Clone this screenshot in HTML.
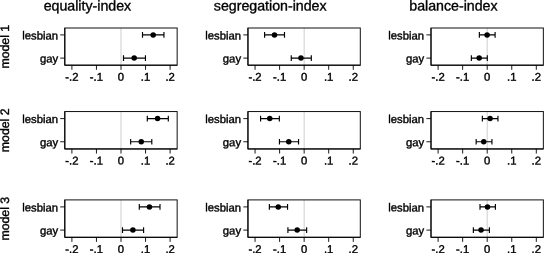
<!DOCTYPE html>
<html><head><meta charset="utf-8"><title>coefficient plot</title>
<style>html,body{margin:0;padding:0;background:#fff;}svg{display:block;}text{font-family:"Liberation Sans",sans-serif;fill:#000;stroke:#000;stroke-width:0.38px;text-rendering:geometricPrecision;}text.t{stroke-width:0.35px;}</style></head><body>
<svg width="544" height="253" viewBox="0 0 544 253">
<rect width="544" height="253" fill="#fff"/>
<text class="t" x="87.40" y="10.40" transform="rotate(0.03 87.40 10.40)" font-size="14.2" text-anchor="middle">equality-index</text>
<text class="t" x="270.20" y="10.40" transform="rotate(0.03 270.20 10.40)" font-size="14.2" text-anchor="middle">segregation-index</text>
<text class="t" x="453.45" y="10.40" transform="rotate(0.03 453.45 10.40)" font-size="14.2" text-anchor="middle">balance-index</text>
<text x="9.0" y="68.55" transform="rotate(-89.97 9.0 68.55)" font-size="12.3" text-anchor="start">model 1</text>
<line x1="121.0" y1="28.0" x2="121.0" y2="65.2" stroke="#cecece" stroke-width="1"/>
<rect x="64.8" y="28.0" width="112.35" height="37.20" fill="none" stroke="#101010" stroke-width="1"/>
<path d="M64.8 28.0V65.2H177.15" fill="none" stroke="#000" stroke-width="1"/>
<line x1="60.20" y1="34.9" x2="64.8" y2="34.9" stroke="#000" stroke-width="0.9"/>
<text x="58.15" y="39.40" transform="rotate(0.03 58.15 39.40)" font-size="11.3" text-anchor="end">lesbian</text>
<line x1="60.20" y1="58.1" x2="64.8" y2="58.1" stroke="#000" stroke-width="0.9"/>
<text x="58.15" y="62.60" transform="rotate(0.03 58.15 62.60)" font-size="11.3" text-anchor="end">gay</text>
<line x1="71.90" y1="65.2" x2="71.90" y2="69.80" stroke="#000" stroke-width="0.9"/>
<text x="71.90" y="80.80" transform="rotate(0.03 71.90 80.80)" font-size="11.3" text-anchor="middle">-.2</text>
<line x1="96.45" y1="65.2" x2="96.45" y2="69.80" stroke="#000" stroke-width="0.9"/>
<text x="96.45" y="80.80" transform="rotate(0.03 96.45 80.80)" font-size="11.3" text-anchor="middle">-.1</text>
<line x1="121.00" y1="65.2" x2="121.00" y2="69.80" stroke="#000" stroke-width="0.9"/>
<text x="121.00" y="80.80" transform="rotate(0.03 121.00 80.80)" font-size="11.3" text-anchor="middle">0</text>
<line x1="145.55" y1="65.2" x2="145.55" y2="69.80" stroke="#000" stroke-width="0.9"/>
<text x="145.55" y="80.80" transform="rotate(0.03 145.55 80.80)" font-size="11.3" text-anchor="middle">.1</text>
<line x1="170.10" y1="65.2" x2="170.10" y2="69.80" stroke="#000" stroke-width="0.9"/>
<text x="170.10" y="80.80" transform="rotate(0.03 170.10 80.80)" font-size="11.3" text-anchor="middle">.2</text>
<path d="M142.5 34.9H163.95M142.5 32.10V37.70M163.95 32.10V37.70" stroke="#000" stroke-width="1.15" fill="none"/>
<circle cx="153.2" cy="34.9" r="2.75" fill="#000"/>
<path d="M123.5 58.1H145.45M123.5 55.30V60.90M145.45 55.30V60.90" stroke="#000" stroke-width="1.15" fill="none"/>
<circle cx="134.2" cy="58.1" r="2.75" fill="#000"/>
<line x1="304.15" y1="28.0" x2="304.15" y2="65.2" stroke="#cecece" stroke-width="1"/>
<rect x="247.95" y="28.0" width="112.35" height="37.20" fill="none" stroke="#101010" stroke-width="1"/>
<path d="M247.95 28.0V65.2H360.3" fill="none" stroke="#000" stroke-width="1"/>
<line x1="243.35" y1="34.9" x2="247.95" y2="34.9" stroke="#000" stroke-width="0.9"/>
<text x="241.05" y="39.40" transform="rotate(0.03 241.05 39.40)" font-size="11.3" text-anchor="end">lesbian</text>
<line x1="243.35" y1="58.1" x2="247.95" y2="58.1" stroke="#000" stroke-width="0.9"/>
<text x="241.05" y="62.60" transform="rotate(0.03 241.05 62.60)" font-size="11.3" text-anchor="end">gay</text>
<line x1="255.05" y1="65.2" x2="255.05" y2="69.80" stroke="#000" stroke-width="0.9"/>
<text x="255.05" y="80.80" transform="rotate(0.03 255.05 80.80)" font-size="11.3" text-anchor="middle">-.2</text>
<line x1="279.60" y1="65.2" x2="279.60" y2="69.80" stroke="#000" stroke-width="0.9"/>
<text x="279.60" y="80.80" transform="rotate(0.03 279.60 80.80)" font-size="11.3" text-anchor="middle">-.1</text>
<line x1="304.15" y1="65.2" x2="304.15" y2="69.80" stroke="#000" stroke-width="0.9"/>
<text x="304.15" y="80.80" transform="rotate(0.03 304.15 80.80)" font-size="11.3" text-anchor="middle">0</text>
<line x1="328.70" y1="65.2" x2="328.70" y2="69.80" stroke="#000" stroke-width="0.9"/>
<text x="328.70" y="80.80" transform="rotate(0.03 328.70 80.80)" font-size="11.3" text-anchor="middle">.1</text>
<line x1="353.25" y1="65.2" x2="353.25" y2="69.80" stroke="#000" stroke-width="0.9"/>
<text x="353.25" y="80.80" transform="rotate(0.03 353.25 80.80)" font-size="11.3" text-anchor="middle">.2</text>
<path d="M264.6 34.9H284.5M264.6 32.10V37.70M284.5 32.10V37.70" stroke="#000" stroke-width="1.15" fill="none"/>
<circle cx="274.5" cy="34.9" r="2.75" fill="#000"/>
<path d="M291.25 58.1H311.3M291.25 55.30V60.90M311.3 55.30V60.90" stroke="#000" stroke-width="1.15" fill="none"/>
<circle cx="300.95" cy="58.1" r="2.75" fill="#000"/>
<line x1="487.2" y1="28.0" x2="487.2" y2="65.2" stroke="#cecece" stroke-width="1"/>
<rect x="431.0" y="28.0" width="112.35" height="37.20" fill="none" stroke="#101010" stroke-width="1"/>
<path d="M431.0 28.0V65.2H543.35" fill="none" stroke="#000" stroke-width="1"/>
<line x1="426.40" y1="34.9" x2="431.0" y2="34.9" stroke="#000" stroke-width="0.9"/>
<text x="424.10" y="39.40" transform="rotate(0.03 424.10 39.40)" font-size="11.3" text-anchor="end">lesbian</text>
<line x1="426.40" y1="58.1" x2="431.0" y2="58.1" stroke="#000" stroke-width="0.9"/>
<text x="424.10" y="62.60" transform="rotate(0.03 424.10 62.60)" font-size="11.3" text-anchor="end">gay</text>
<line x1="438.10" y1="65.2" x2="438.10" y2="69.80" stroke="#000" stroke-width="0.9"/>
<text x="438.10" y="80.80" transform="rotate(0.03 438.10 80.80)" font-size="11.3" text-anchor="middle">-.2</text>
<line x1="462.65" y1="65.2" x2="462.65" y2="69.80" stroke="#000" stroke-width="0.9"/>
<text x="462.65" y="80.80" transform="rotate(0.03 462.65 80.80)" font-size="11.3" text-anchor="middle">-.1</text>
<line x1="487.20" y1="65.2" x2="487.20" y2="69.80" stroke="#000" stroke-width="0.9"/>
<text x="487.20" y="80.80" transform="rotate(0.03 487.20 80.80)" font-size="11.3" text-anchor="middle">0</text>
<line x1="511.75" y1="65.2" x2="511.75" y2="69.80" stroke="#000" stroke-width="0.9"/>
<text x="511.75" y="80.80" transform="rotate(0.03 511.75 80.80)" font-size="11.3" text-anchor="middle">.1</text>
<line x1="536.30" y1="65.2" x2="536.30" y2="69.80" stroke="#000" stroke-width="0.9"/>
<text x="536.30" y="80.80" transform="rotate(0.03 536.30 80.80)" font-size="11.3" text-anchor="middle">.2</text>
<path d="M479.35 34.9H495.1M479.35 32.10V37.70M495.1 32.10V37.70" stroke="#000" stroke-width="1.15" fill="none"/>
<circle cx="487.1" cy="34.9" r="2.75" fill="#000"/>
<path d="M471.35 58.1H487.3M471.35 55.30V60.90M487.3 55.30V60.90" stroke="#000" stroke-width="1.15" fill="none"/>
<circle cx="479.2" cy="58.1" r="2.75" fill="#000"/>
<text x="9.0" y="152.20" transform="rotate(-89.97 9.0 152.20)" font-size="12.3" text-anchor="start">model 2</text>
<line x1="121.0" y1="111.55" x2="121.0" y2="148.95" stroke="#cecece" stroke-width="1"/>
<rect x="64.8" y="111.55" width="112.35" height="37.40" fill="none" stroke="#101010" stroke-width="1"/>
<path d="M64.8 111.55V148.95H177.15" fill="none" stroke="#000" stroke-width="1"/>
<line x1="60.20" y1="118.6" x2="64.8" y2="118.6" stroke="#000" stroke-width="0.9"/>
<text x="58.15" y="123.10" transform="rotate(0.03 58.15 123.10)" font-size="11.3" text-anchor="end">lesbian</text>
<line x1="60.20" y1="141.75" x2="64.8" y2="141.75" stroke="#000" stroke-width="0.9"/>
<text x="58.15" y="146.25" transform="rotate(0.03 58.15 146.25)" font-size="11.3" text-anchor="end">gay</text>
<line x1="71.90" y1="148.95" x2="71.90" y2="153.55" stroke="#000" stroke-width="0.9"/>
<text x="71.90" y="164.55" transform="rotate(0.03 71.90 164.55)" font-size="11.3" text-anchor="middle">-.2</text>
<line x1="96.45" y1="148.95" x2="96.45" y2="153.55" stroke="#000" stroke-width="0.9"/>
<text x="96.45" y="164.55" transform="rotate(0.03 96.45 164.55)" font-size="11.3" text-anchor="middle">-.1</text>
<line x1="121.00" y1="148.95" x2="121.00" y2="153.55" stroke="#000" stroke-width="0.9"/>
<text x="121.00" y="164.55" transform="rotate(0.03 121.00 164.55)" font-size="11.3" text-anchor="middle">0</text>
<line x1="145.55" y1="148.95" x2="145.55" y2="153.55" stroke="#000" stroke-width="0.9"/>
<text x="145.55" y="164.55" transform="rotate(0.03 145.55 164.55)" font-size="11.3" text-anchor="middle">.1</text>
<line x1="170.10" y1="148.95" x2="170.10" y2="153.55" stroke="#000" stroke-width="0.9"/>
<text x="170.10" y="164.55" transform="rotate(0.03 170.10 164.55)" font-size="11.3" text-anchor="middle">.2</text>
<path d="M147.3 118.6H168.3M147.3 115.80V121.40M168.3 115.80V121.40" stroke="#000" stroke-width="1.15" fill="none"/>
<circle cx="157.55" cy="118.6" r="2.75" fill="#000"/>
<path d="M130.65 141.75H151.8M130.65 138.95V144.55M151.8 138.95V144.55" stroke="#000" stroke-width="1.15" fill="none"/>
<circle cx="141.25" cy="141.75" r="2.75" fill="#000"/>
<line x1="304.15" y1="111.55" x2="304.15" y2="148.95" stroke="#cecece" stroke-width="1"/>
<rect x="247.95" y="111.55" width="112.35" height="37.40" fill="none" stroke="#101010" stroke-width="1"/>
<path d="M247.95 111.55V148.95H360.3" fill="none" stroke="#000" stroke-width="1"/>
<line x1="243.35" y1="118.6" x2="247.95" y2="118.6" stroke="#000" stroke-width="0.9"/>
<text x="241.05" y="123.10" transform="rotate(0.03 241.05 123.10)" font-size="11.3" text-anchor="end">lesbian</text>
<line x1="243.35" y1="141.75" x2="247.95" y2="141.75" stroke="#000" stroke-width="0.9"/>
<text x="241.05" y="146.25" transform="rotate(0.03 241.05 146.25)" font-size="11.3" text-anchor="end">gay</text>
<line x1="255.05" y1="148.95" x2="255.05" y2="153.55" stroke="#000" stroke-width="0.9"/>
<text x="255.05" y="164.55" transform="rotate(0.03 255.05 164.55)" font-size="11.3" text-anchor="middle">-.2</text>
<line x1="279.60" y1="148.95" x2="279.60" y2="153.55" stroke="#000" stroke-width="0.9"/>
<text x="279.60" y="164.55" transform="rotate(0.03 279.60 164.55)" font-size="11.3" text-anchor="middle">-.1</text>
<line x1="304.15" y1="148.95" x2="304.15" y2="153.55" stroke="#000" stroke-width="0.9"/>
<text x="304.15" y="164.55" transform="rotate(0.03 304.15 164.55)" font-size="11.3" text-anchor="middle">0</text>
<line x1="328.70" y1="148.95" x2="328.70" y2="153.55" stroke="#000" stroke-width="0.9"/>
<text x="328.70" y="164.55" transform="rotate(0.03 328.70 164.55)" font-size="11.3" text-anchor="middle">.1</text>
<line x1="353.25" y1="148.95" x2="353.25" y2="153.55" stroke="#000" stroke-width="0.9"/>
<text x="353.25" y="164.55" transform="rotate(0.03 353.25 164.55)" font-size="11.3" text-anchor="middle">.2</text>
<path d="M260.6 118.6H279.35M260.6 115.80V121.40M279.35 115.80V121.40" stroke="#000" stroke-width="1.15" fill="none"/>
<circle cx="269.75" cy="118.6" r="2.75" fill="#000"/>
<path d="M279.45 141.75H298.55M279.45 138.95V144.55M298.55 138.95V144.55" stroke="#000" stroke-width="1.15" fill="none"/>
<circle cx="288.75" cy="141.75" r="2.75" fill="#000"/>
<line x1="487.2" y1="111.55" x2="487.2" y2="148.95" stroke="#cecece" stroke-width="1"/>
<rect x="431.0" y="111.55" width="112.35" height="37.40" fill="none" stroke="#101010" stroke-width="1"/>
<path d="M431.0 111.55V148.95H543.35" fill="none" stroke="#000" stroke-width="1"/>
<line x1="426.40" y1="118.6" x2="431.0" y2="118.6" stroke="#000" stroke-width="0.9"/>
<text x="424.10" y="123.10" transform="rotate(0.03 424.10 123.10)" font-size="11.3" text-anchor="end">lesbian</text>
<line x1="426.40" y1="141.75" x2="431.0" y2="141.75" stroke="#000" stroke-width="0.9"/>
<text x="424.10" y="146.25" transform="rotate(0.03 424.10 146.25)" font-size="11.3" text-anchor="end">gay</text>
<line x1="438.10" y1="148.95" x2="438.10" y2="153.55" stroke="#000" stroke-width="0.9"/>
<text x="438.10" y="164.55" transform="rotate(0.03 438.10 164.55)" font-size="11.3" text-anchor="middle">-.2</text>
<line x1="462.65" y1="148.95" x2="462.65" y2="153.55" stroke="#000" stroke-width="0.9"/>
<text x="462.65" y="164.55" transform="rotate(0.03 462.65 164.55)" font-size="11.3" text-anchor="middle">-.1</text>
<line x1="487.20" y1="148.95" x2="487.20" y2="153.55" stroke="#000" stroke-width="0.9"/>
<text x="487.20" y="164.55" transform="rotate(0.03 487.20 164.55)" font-size="11.3" text-anchor="middle">0</text>
<line x1="511.75" y1="148.95" x2="511.75" y2="153.55" stroke="#000" stroke-width="0.9"/>
<text x="511.75" y="164.55" transform="rotate(0.03 511.75 164.55)" font-size="11.3" text-anchor="middle">.1</text>
<line x1="536.30" y1="148.95" x2="536.30" y2="153.55" stroke="#000" stroke-width="0.9"/>
<text x="536.30" y="164.55" transform="rotate(0.03 536.30 164.55)" font-size="11.3" text-anchor="middle">.2</text>
<path d="M482.35 118.6H497.95M482.35 115.80V121.40M497.95 115.80V121.40" stroke="#000" stroke-width="1.15" fill="none"/>
<circle cx="490.05" cy="118.6" r="2.75" fill="#000"/>
<path d="M476.15 141.75H491.95M476.15 138.95V144.55M491.95 138.95V144.55" stroke="#000" stroke-width="1.15" fill="none"/>
<circle cx="483.75" cy="141.75" r="2.75" fill="#000"/>
<text x="9.0" y="240.55" transform="rotate(-89.97 9.0 240.55)" font-size="12.3" text-anchor="start">model 3</text>
<line x1="121.0" y1="199.9" x2="121.0" y2="237.3" stroke="#cecece" stroke-width="1"/>
<rect x="64.8" y="199.9" width="112.35" height="37.40" fill="none" stroke="#101010" stroke-width="1"/>
<path d="M64.8 199.9V237.3H177.15" fill="none" stroke="#000" stroke-width="1"/>
<line x1="60.20" y1="206.9" x2="64.8" y2="206.9" stroke="#000" stroke-width="0.9"/>
<text x="58.15" y="211.40" transform="rotate(0.03 58.15 211.40)" font-size="11.3" text-anchor="end">lesbian</text>
<line x1="60.20" y1="230.1" x2="64.8" y2="230.1" stroke="#000" stroke-width="0.9"/>
<text x="58.15" y="234.60" transform="rotate(0.03 58.15 234.60)" font-size="11.3" text-anchor="end">gay</text>
<line x1="71.90" y1="237.3" x2="71.90" y2="241.90" stroke="#000" stroke-width="0.9"/>
<text x="71.90" y="252.90" transform="rotate(0.03 71.90 252.90)" font-size="11.3" text-anchor="middle">-.2</text>
<line x1="96.45" y1="237.3" x2="96.45" y2="241.90" stroke="#000" stroke-width="0.9"/>
<text x="96.45" y="252.90" transform="rotate(0.03 96.45 252.90)" font-size="11.3" text-anchor="middle">-.1</text>
<line x1="121.00" y1="237.3" x2="121.00" y2="241.90" stroke="#000" stroke-width="0.9"/>
<text x="121.00" y="252.90" transform="rotate(0.03 121.00 252.90)" font-size="11.3" text-anchor="middle">0</text>
<line x1="145.55" y1="237.3" x2="145.55" y2="241.90" stroke="#000" stroke-width="0.9"/>
<text x="145.55" y="252.90" transform="rotate(0.03 145.55 252.90)" font-size="11.3" text-anchor="middle">.1</text>
<line x1="170.10" y1="237.3" x2="170.10" y2="241.90" stroke="#000" stroke-width="0.9"/>
<text x="170.10" y="252.90" transform="rotate(0.03 170.10 252.90)" font-size="11.3" text-anchor="middle">.2</text>
<path d="M139.3 206.9H160.0M139.3 204.10V209.70M160.0 204.10V209.70" stroke="#000" stroke-width="1.15" fill="none"/>
<circle cx="149.45" cy="206.9" r="2.75" fill="#000"/>
<path d="M122.5 230.1H143.6M122.5 227.30V232.90M143.6 227.30V232.90" stroke="#000" stroke-width="1.15" fill="none"/>
<circle cx="132.9" cy="230.1" r="2.75" fill="#000"/>
<line x1="304.15" y1="199.9" x2="304.15" y2="237.3" stroke="#cecece" stroke-width="1"/>
<rect x="247.95" y="199.9" width="112.35" height="37.40" fill="none" stroke="#101010" stroke-width="1"/>
<path d="M247.95 199.9V237.3H360.3" fill="none" stroke="#000" stroke-width="1"/>
<line x1="243.35" y1="206.9" x2="247.95" y2="206.9" stroke="#000" stroke-width="0.9"/>
<text x="241.05" y="211.40" transform="rotate(0.03 241.05 211.40)" font-size="11.3" text-anchor="end">lesbian</text>
<line x1="243.35" y1="230.1" x2="247.95" y2="230.1" stroke="#000" stroke-width="0.9"/>
<text x="241.05" y="234.60" transform="rotate(0.03 241.05 234.60)" font-size="11.3" text-anchor="end">gay</text>
<line x1="255.05" y1="237.3" x2="255.05" y2="241.90" stroke="#000" stroke-width="0.9"/>
<text x="255.05" y="252.90" transform="rotate(0.03 255.05 252.90)" font-size="11.3" text-anchor="middle">-.2</text>
<line x1="279.60" y1="237.3" x2="279.60" y2="241.90" stroke="#000" stroke-width="0.9"/>
<text x="279.60" y="252.90" transform="rotate(0.03 279.60 252.90)" font-size="11.3" text-anchor="middle">-.1</text>
<line x1="304.15" y1="237.3" x2="304.15" y2="241.90" stroke="#000" stroke-width="0.9"/>
<text x="304.15" y="252.90" transform="rotate(0.03 304.15 252.90)" font-size="11.3" text-anchor="middle">0</text>
<line x1="328.70" y1="237.3" x2="328.70" y2="241.90" stroke="#000" stroke-width="0.9"/>
<text x="328.70" y="252.90" transform="rotate(0.03 328.70 252.90)" font-size="11.3" text-anchor="middle">.1</text>
<line x1="353.25" y1="237.3" x2="353.25" y2="241.90" stroke="#000" stroke-width="0.9"/>
<text x="353.25" y="252.90" transform="rotate(0.03 353.25 252.90)" font-size="11.3" text-anchor="middle">.2</text>
<path d="M269.35 206.9H287.55M269.35 204.10V209.70M287.55 204.10V209.70" stroke="#000" stroke-width="1.15" fill="none"/>
<circle cx="278.25" cy="206.9" r="2.75" fill="#000"/>
<path d="M287.9 230.1H306.65M287.9 227.30V232.90M306.65 227.30V232.90" stroke="#000" stroke-width="1.15" fill="none"/>
<circle cx="297.2" cy="230.1" r="2.75" fill="#000"/>
<line x1="487.2" y1="199.9" x2="487.2" y2="237.3" stroke="#cecece" stroke-width="1"/>
<rect x="431.0" y="199.9" width="112.35" height="37.40" fill="none" stroke="#101010" stroke-width="1"/>
<path d="M431.0 199.9V237.3H543.35" fill="none" stroke="#000" stroke-width="1"/>
<line x1="426.40" y1="206.9" x2="431.0" y2="206.9" stroke="#000" stroke-width="0.9"/>
<text x="424.10" y="211.40" transform="rotate(0.03 424.10 211.40)" font-size="11.3" text-anchor="end">lesbian</text>
<line x1="426.40" y1="230.1" x2="431.0" y2="230.1" stroke="#000" stroke-width="0.9"/>
<text x="424.10" y="234.60" transform="rotate(0.03 424.10 234.60)" font-size="11.3" text-anchor="end">gay</text>
<line x1="438.10" y1="237.3" x2="438.10" y2="241.90" stroke="#000" stroke-width="0.9"/>
<text x="438.10" y="252.90" transform="rotate(0.03 438.10 252.90)" font-size="11.3" text-anchor="middle">-.2</text>
<line x1="462.65" y1="237.3" x2="462.65" y2="241.90" stroke="#000" stroke-width="0.9"/>
<text x="462.65" y="252.90" transform="rotate(0.03 462.65 252.90)" font-size="11.3" text-anchor="middle">-.1</text>
<line x1="487.20" y1="237.3" x2="487.20" y2="241.90" stroke="#000" stroke-width="0.9"/>
<text x="487.20" y="252.90" transform="rotate(0.03 487.20 252.90)" font-size="11.3" text-anchor="middle">0</text>
<line x1="511.75" y1="237.3" x2="511.75" y2="241.90" stroke="#000" stroke-width="0.9"/>
<text x="511.75" y="252.90" transform="rotate(0.03 511.75 252.90)" font-size="11.3" text-anchor="middle">.1</text>
<line x1="536.30" y1="237.3" x2="536.30" y2="241.90" stroke="#000" stroke-width="0.9"/>
<text x="536.30" y="252.90" transform="rotate(0.03 536.30 252.90)" font-size="11.3" text-anchor="middle">.2</text>
<path d="M480.0 206.9H495.4M480.0 204.10V209.70M495.4 204.10V209.70" stroke="#000" stroke-width="1.15" fill="none"/>
<circle cx="487.5" cy="206.9" r="2.75" fill="#000"/>
<path d="M473.35 230.1H489.4M473.35 227.30V232.90M489.4 227.30V232.90" stroke="#000" stroke-width="1.15" fill="none"/>
<circle cx="481.05" cy="230.1" r="2.75" fill="#000"/>
</svg></body></html>
